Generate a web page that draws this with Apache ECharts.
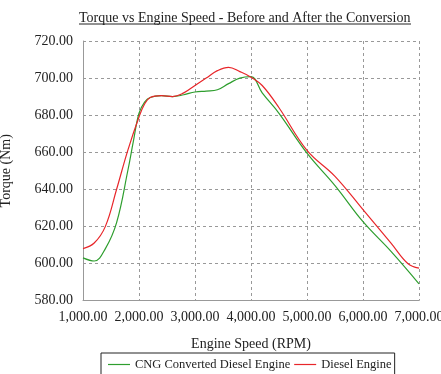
<!DOCTYPE html>
<html>
<head>
<meta charset="utf-8">
<script src="https://cdn.jsdelivr.net/npm/echarts@6/dist/echarts.min.js"></script>
<style>
  html, body { margin: 0; padding: 0; background: #fff; }
  #vis { width: 441px; height: 374px; }
</style>
</head>
<body>
<div id="vis"></div>
<script>
// engine speed (RPM) for each curve
const cngRpm = [1000, 1200, 1400, 1600, 1800, 1900, 2000, 2100, 2200, 2400, 2600, 2800, 3000, 3200, 3400, 3600, 3800, 4000, 4200, 4500, 5000, 5500, 6000, 6500, 7000]
const cngTorque = [603, 601.3, 608, 622, 650, 666, 681, 687, 689.5, 690.5, 690, 691, 692.5, 693, 693.7, 697, 700, 700.8, 692, 681, 659.5, 642, 622.5, 606.5, 589]

const dieselRpm = [1000, 1200, 1400, 1600, 1800, 2000, 2100, 2200, 2400, 2600, 2800, 3000, 3200, 3400, 3600, 3800, 4000, 4200, 4500, 5000, 5500, 6000, 6500, 6800, 7000]
const dieselTorque = [608, 611, 620, 640, 661, 679, 686, 689.5, 690.5, 690, 692, 696, 700, 704, 705.8, 703.5, 700.5, 696, 684, 661, 647, 629, 611, 600, 597.5]

const seriesNames = ['CNG Converted Diesel Engine', 'Diesel Engine']

const font = '"Liberation Serif", "Times New Roman", serif'

function pairs (xs, ys) {
  return xs.map((x, i) => [x, ys[i]])
}

const fmt = (v) => v.toLocaleString('en-US', { minimumFractionDigits: 2, maximumFractionDigits: 2 })

const chart = echarts.init(document.getElementById('vis'), null, { renderer: 'canvas' })

const options = {
  animation: false,
  title: {
    text: 'Torque vs Engine Speed - Before and After the Conversion',
    left: 74,
    top: 6,
    textStyle: { fontFamily: font, fontSize: 14, fontWeight: 'normal', color: '#222' }
  },
  graphic: [
    // underline of the title
    { type: 'line', shape: { x1: 79, y1: 24, x2: 411, y2: 24 }, style: { stroke: '#222', lineWidth: 1 } }
  ],
  legend: {
    data: seriesNames,
    left: 101,
    top: 353,
    padding: [5, 3, 5, 7],
    itemGap: 4,
    itemWidth: 22,
    itemHeight: 1.2,
    icon: 'rect',
    borderColor: '#222',
    borderWidth: 1,
    textStyle: { fontFamily: font, fontSize: 12.5, color: '#222' }
  },
  grid: { left: 83, right: 22, top: 41, bottom: 73.5, outerBoundsMode: 'none' },
  xAxis: {
    type: 'value',
    min: 1000,
    max: 7000,
    interval: 1000,
    name: 'Engine Speed (RPM)',
    nameLocation: 'middle',
    nameGap: 37,
    nameTextStyle: { fontFamily: font, fontSize: 14, color: '#222' },
    axisLine: { lineStyle: { color: '#999' } },
    axisTick: { show: false },
    axisLabel: { fontFamily: font, fontSize: 14, color: '#222', margin: 10, formatter: fmt },
    splitLine: { lineStyle: { color: '#999', type: [3, 3] } }
  },
  yAxis: {
    type: 'value',
    min: 580,
    max: 720,
    interval: 20,
    name: 'Torque (Nm)',
    nameLocation: 'middle',
    nameGap: 70,
    nameTextStyle: { fontFamily: font, fontSize: 14, color: '#222' },
    axisLine: { show: true, lineStyle: { color: '#999' } },
    axisTick: { show: false },
    axisLabel: { fontFamily: font, fontSize: 14, color: '#222', margin: 10, formatter: fmt },
    splitLine: { lineStyle: { color: '#999', type: [3, 3] } }
  },
  series: [
    {
      name: seriesNames[0],
      type: 'line',
      data: pairs(cngRpm, cngTorque),
      smooth: 0.4,
      symbol: 'none',
      color: '#2e9e2e',
      lineStyle: { width: 1.2 }
    },
    {
      name: seriesNames[1],
      type: 'line',
      data: pairs(dieselRpm, dieselTorque),
      smooth: 0.4,
      symbol: 'none',
      color: '#e8262a',
      lineStyle: { width: 1.2 }
    }
  ]
}

chart.setOption(options)
</script>
</body>
</html>
